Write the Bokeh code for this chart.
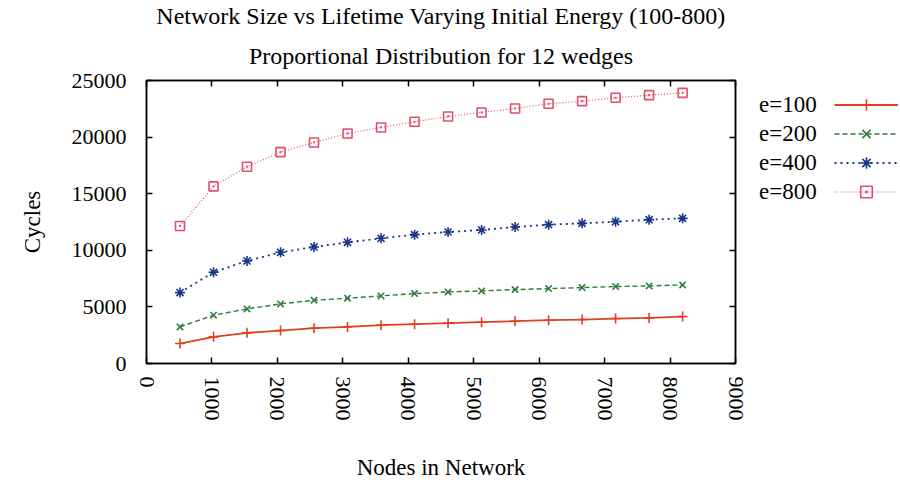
from bokeh.plotting import figure
from bokeh.layouts import row
from bokeh.models import (Range1d, FixedTicker, Legend, LegendItem, Title, LinearAxis,
                          CustomJSTickFormatter)
from bokeh.embed import file_html
from bokeh.resources import INLINE

nodes = [512, 1024, 1536, 2048, 2560, 3072, 3584, 4096, 4608, 5120, 5632, 6144, 6656, 7168, 7680, 8192]
e100 = [1765, 2353, 2706, 2912, 3118, 3235, 3382, 3470, 3559, 3647, 3735, 3823, 3882, 3970, 4029, 4147]
e200 = [3235, 4265, 4823, 5265, 5588, 5765, 5970, 6176, 6323, 6412, 6529, 6617, 6706, 6794, 6853, 6941]
e400 = [6265, 8059, 9059, 9823, 10294, 10706, 11059, 11382, 11617, 11794, 12059, 12265, 12382, 12529, 12706, 12823]
e800 = [12147, 15647, 17382, 18676, 19529, 20323, 20853, 21353, 21823, 22176, 22529, 22941, 23176, 23470, 23706, 23911]
series_names = ["e=100", "e=200", "e=400", "e=800"]
x_ticks = [0, 1000, 2000, 3000, 4000, 5000, 6000, 7000, 8000, 9000]
y_ticks = [0, 5000, 10000, 15000, 20000, 25000]
title_lines = ["Network Size vs Lifetime Varying Initial Energy (100-800)",
               "Proportional Distribution for 12 wedges"]

FONT = "Liberation Serif"
H = 485
W_MAIN = 748

p = figure(width=W_MAIN, height=H, output_backend="svg", toolbar_location=None,
           x_range=Range1d(0, 9000), y_range=Range1d(0, 25000),
           min_border_left=146, min_border_right=13, min_border_top=79, min_border_bottom=122)
p.grid.visible = False
p.outline_line_color = "black"
p.outline_line_width = 1.5
p.background_fill_color = "white"
p.border_fill_color = "white"

for ax in (p.xaxis[0], p.yaxis[0]):
    ax.major_tick_in = 6
    ax.major_tick_out = 0
    ax.minor_tick_in = 0
    ax.minor_tick_out = 0
    ax.axis_line_width = 1.5
    ax.major_tick_line_width = 1.5
    ax.major_label_text_font = FONT
    ax.major_label_text_font_size = "22px"
    ax.major_label_text_color = "black"
    ax.axis_label_text_font = FONT
    ax.axis_label_text_font_size = "23px"
    ax.axis_label_text_font_style = "normal"
    ax.axis_label_text_color = "black"

p.xaxis.ticker = FixedTicker(ticks=x_ticks)
p.yaxis.ticker = FixedTicker(ticks=y_ticks)
p.xaxis.major_label_orientation = "vertical"
p.xaxis.axis_label = "Nodes in Network"
p.yaxis.axis_label = "Cycles"
p.xaxis.major_label_standoff = 13
p.yaxis.major_label_standoff = 20
p.xaxis.axis_label_standoff = 31
p.yaxis.axis_label_standoff = 24

blank = CustomJSTickFormatter(code="return ''")
top = LinearAxis(ticker=FixedTicker(ticks=x_ticks), formatter=blank,
                 major_tick_in=6, major_tick_out=0, minor_tick_in=0, minor_tick_out=0,
                 axis_line_width=1.5, major_tick_line_width=1.5, major_label_standoff=0)
right = LinearAxis(ticker=FixedTicker(ticks=y_ticks), formatter=blank,
                   major_tick_in=6, major_tick_out=0, minor_tick_in=0, minor_tick_out=0,
                   axis_line_width=1.5, major_tick_line_width=1.5, major_label_standoff=0)
p.add_layout(top, "above")
p.add_layout(right, "right")

for t, so in zip(reversed(title_lines), (24, 0)):
    p.add_layout(Title(text=t, align="center", text_font=FONT, text_font_size="24px",
                       text_font_style="normal", text_color="black", standoff=so), "above")

styles = [
    dict(color="#e0401f", dash="solid", marker="cross", size=10, lw=1.8),
    dict(color="#2f7d3b", dash="5 3", marker="x", size=9, lw=1.4),
    dict(color="#183688", dash="2 4", marker="asterisk", size=10, lw=1.8),
    dict(color="#e0506a", dash="1 2", marker="square_dot", size=9, lw=1.2),
]
data = [e100, e200, e400, e800]
for ys, st in zip(data, styles):
    p.line(nodes, ys, line_color=st["color"], line_dash=st["dash"], line_width=st["lw"])
    p.scatter(nodes, ys, marker=st["marker"], size=st["size"], line_color=st["color"],
              fill_color=None, line_width=1.6)


def key_panel(width):
    f = figure(width=width, height=H, output_backend="svg", toolbar_location=None,
               x_range=Range1d(0, 1), y_range=Range1d(0, 1),
               x_axis_type=None, y_axis_type=None,
               min_border_left=0, min_border_right=0, min_border_top=47, min_border_bottom=0)
    f.grid.visible = False
    f.outline_line_color = None
    f.border_fill_color = "white"
    f.background_fill_color = "white"
    return f


common = dict(location="top_left", margin=10, padding=0, spacing=-5,
              border_line_color=None, background_fill_alpha=0,
              glyph_height=29, label_height=29, label_standoff=0,
              label_text_font=FONT, label_text_font_size="23px", label_text_color="black")

# key: names on the left, line samples on the right (as in the reference)
names_fig = key_panel(76)
samples_fig = key_panel(900 - W_MAIN - 76)
name_items, sample_items = [], []
for name, ys, st in zip(series_names, data, styles):
    ghost = names_fig.line(nodes, ys, line_alpha=0, visible=False)
    name_items.append(LegendItem(label=name, renderers=[ghost]))
    r1 = samples_fig.line(nodes, ys, line_color=st["color"], line_dash=st["dash"],
                          line_width=st["lw"], visible=False)
    r2 = samples_fig.scatter(nodes, ys, marker=st["marker"], size=st["size"],
                             line_color=st["color"], fill_color=None, line_width=1.6,
                             visible=False)
    sample_items.append(LegendItem(label=" ", renderers=[r1, r2]))

names_fig.add_layout(Legend(items=name_items, glyph_width=1, **common), "center")
samples_fig.add_layout(Legend(items=sample_items, glyph_width=64, label_width=0, **common), "center")

layout = row(p, names_fig, samples_fig)
open("out.html", "w").write(file_html(layout, INLINE))
